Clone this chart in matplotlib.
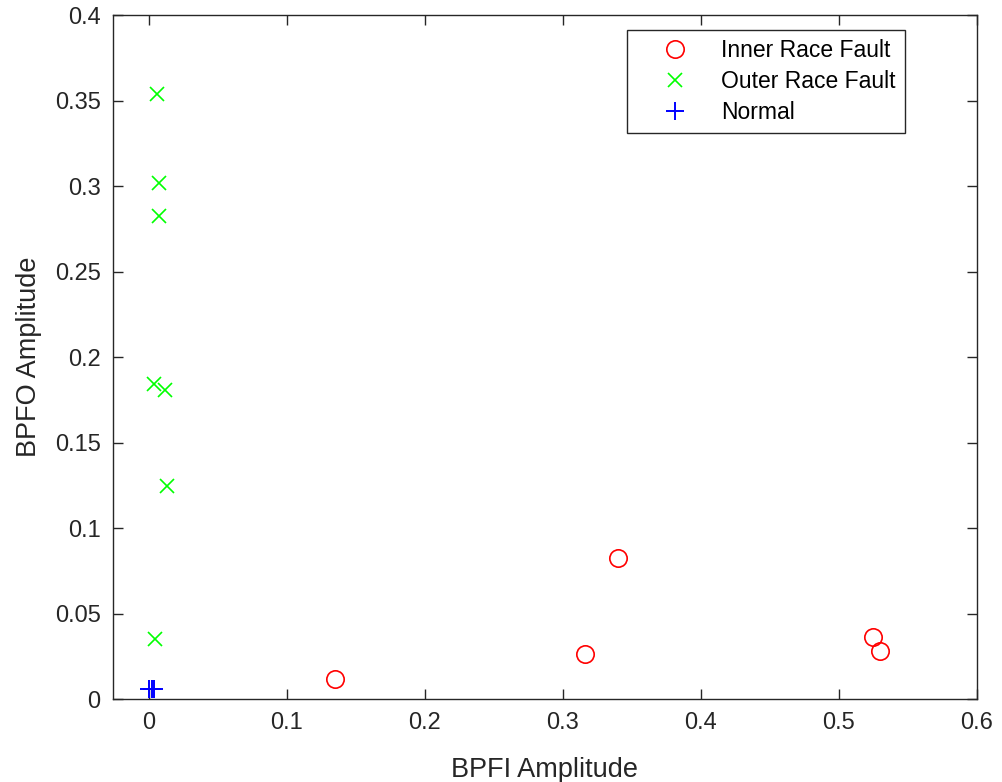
import matplotlib
matplotlib.use("Agg")
import matplotlib.pyplot as plt

plt.rcParams["font.family"] = ["Liberation Sans", "DejaVu Sans"]

# values
inner_x = [0.1348, 0.316, 0.340, 0.5246, 0.530]
inner_y = [0.0117, 0.0263, 0.0825, 0.0363, 0.0281]
outer_x = [0.0058, 0.0072, 0.0072, 0.0036, 0.0116, 0.0130, 0.0043]
outer_y = [0.3538, 0.3018, 0.2825, 0.1842, 0.1807, 0.1246, 0.0351]
normal_x = [0.0002, 0.0022, 0.0040]
normal_y = [0.0058, 0.0060, 0.0058]

xticks = [0, 0.1, 0.2, 0.3, 0.4, 0.5, 0.6]
yticks = [0, 0.05, 0.1, 0.15, 0.2, 0.25, 0.3, 0.35, 0.4]

dark = "#262626"

fig = plt.figure(figsize=(10.02, 7.82), dpi=100)
ax = fig.add_axes([0.1128, 0.1061, 0.975 - 0.1128, 0.9808 - 0.1061])

ax.plot(inner_x, inner_y, "o", color="#ff0000", mfc="none", ms=12.5, mew=1.2,
        label="Inner Race Fault", linestyle="none")
ax.plot(outer_x, outer_y, "x", color="#00ff00", ms=9.5, mew=1.2,
        label="Outer Race Fault", linestyle="none")
ax.plot(normal_x, normal_y, "+", color="#0000ff", ms=13, mew=1.4,
        label="Normal", linestyle="none")

ax.set_xlim(-0.026, 0.6)
ax.set_ylim(0, 0.4)
ax.set_xticks(xticks)
ax.set_xticklabels(["0", "0.1", "0.2", "0.3", "0.4", "0.5", "0.6"])
ax.set_yticks(yticks)
ax.set_yticklabels(["0", "0.05", "0.1", "0.15", "0.2", "0.25", "0.3", "0.35", "0.4"])

ax.tick_params(direction="in", top=True, right=True, length=7, width=1,
               colors=dark, labelsize=17, pad=9)
for s in ax.spines.values():
    s.set_color(dark)
    s.set_linewidth(1)

ax.set_xlabel("BPFI Amplitude", fontsize=19.5, color=dark, labelpad=17)
ax.set_ylabel("BPFO Amplitude", fontsize=19.5, color=dark, labelpad=9)

leg = ax.legend(loc="upper right", bbox_to_anchor=(0.9167, 0.978), fontsize=16.5,
                fancybox=False, edgecolor=dark, framealpha=1, borderaxespad=0,
                handletextpad=0.3, borderpad=0.4, labelspacing=0.35,
                handlelength=3.4)
leg.get_frame().set_linewidth(1)

fig.savefig("out.png", dpi=100)
